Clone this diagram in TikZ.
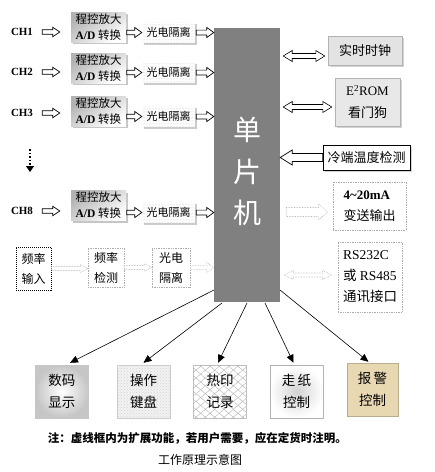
\documentclass[tikz,border=0pt]{standalone}
\usepackage{fontspec}
\setmainfont{Liberation Serif}
\newfontfamily\cjk{Noto Sans CJK SC}
\usetikzlibrary{arrows.meta,calc,shadows,patterns,patterns.meta}
\newcommand{\barrow}[6][]{\draw[#1] let \p1=(#2),\p2=(#3),\n1={sign(\x2-\x1)} in
  (\x1,{\y1+#4}) -- ({\x2-\n1*#6},{\y1+#4}) -- ({\x2-\n1*#6},{\y1+#5}) -- (\x2,\y1)
  -- ({\x2-\n1*#6},{\y1-#5}) -- ({\x2-\n1*#6},{\y1-#4}) -- (\x1,{\y1-#4}) -- cycle;}
\newcommand{\dbarrow}[6][]{\draw[#1] let \p1=(#2),\p2=(#3),\n1={sign(\x2-\x1)} in
  (\x1,\y1) -- ({\x1+\n1*#6},{\y1+#5}) -- ({\x1+\n1*#6},{\y1+#4}) -- ({\x2-\n1*#6},{\y1+#4})
  -- ({\x2-\n1*#6},{\y1+#5}) -- (\x2,\y1) -- ({\x2-\n1*#6},{\y1-#5}) -- ({\x2-\n1*#6},{\y1-#4})
  -- ({\x1+\n1*#6},{\y1-#4}) -- ({\x1+\n1*#6},{\y1-#5}) -- cycle;}
\definecolor{tan}{HTML}{E8D8B2}
\begin{document}
\begin{tikzpicture}[x=1pt,y=-1pt,
  chl/.style={font=\bfseries\fontsize{11}{13}\selectfont, inner sep=0pt},
  ampbox/.style={minimum width=55pt,minimum height=30pt,inner sep=0pt,align=left,
     top color=gray!60,bottom color=white,shading angle=35,
     drop shadow={shadow xshift=2pt,shadow yshift=-2pt,opacity=0.45},
     font=\fontsize{11.5}{16}\selectfont},
  isobox/.style={minimum width=53pt,minimum height=21pt,inner sep=0pt,
     fill=white,postaction={pattern=dots,pattern color=gray!55},
     drop shadow={shadow xshift=1.5pt,shadow yshift=-1.5pt,opacity=0.4},
     font=\cjk\fontsize{11}{13}\selectfont},
  hol/.style={draw=black,fill=white,line width=0.7pt},
  dhol/.style={draw=gray!60,fill=white,densely dotted,line width=0.6pt},
  dbox/.style={draw=gray!65,densely dotted,line width=0.7pt,inner sep=0pt,align=center},
  gbox/.style={draw=gray!60,fill=gray!22,inner sep=0pt,align=center,
     drop shadow={shadow xshift=1.5pt,shadow yshift=-1.5pt,opacity=0.35}},
  bbox/.style={minimum width=53pt,minimum height=53pt,inner sep=0pt,align=center,
     font=\cjk\fontsize{13.5}{22}\selectfont},
  blk/.style={line width=0.6pt,-{Triangle[length=8pt,width=7pt]}},
]
\useasboundingbox (0,0) rectangle (435,472);
% MCU
\node[fill=black!50,minimum width=66pt,minimum height=274pt,inner sep=0pt] (mcu) at (247,165) {};
\node[text=white,font=\cjk\fontsize{28}{30}\selectfont] (u1) at (247,130) {单};
\node[text=white,font=\cjk\fontsize{28}{30}\selectfont] (u2) at (247,172) {片};
\node[text=white,font=\cjk\fontsize{28}{30}\selectfont] (u3) at (247,213) {机};
% channels
\foreach \k/\lab/\yc/\ya/\yi in {1/CH1/32/27/32.5, 2/CH2/72/68/72.5, 3/CH3/113/111/116.5, 8/CH8/211/205.5/212.5}{
  \node[chl] (ch\k) at (22,\yc) {\lab};
  \node[ampbox] (amp\k) at (98.5,\ya) {{\cjk 程控放大}\\\textbf{A/D} {\cjk 转换}};
  \node[isobox] (iso\k) at (168.5,\yi) {光电隔离};
  \barrow[hol]{$(ch\k.east)+(9,0)$}{$(amp\k.west |- ch\k.east)+(-11,0)$}{2.2pt}{4.7pt}{7pt}
  \barrow[hol]{$(amp\k.east |- iso\k.west)+(0.5,0)$}{iso\k.west}{2.2pt}{5pt}{7pt}
  \barrow[hol]{$(iso\k.east)+(1,0)$}{iso\k.east -| mcu.west}{2.4pt}{5pt}{7pt}
}
% dotted down arrow
\coordinate (d1) at (30,149);
\coordinate (d2) at (30,172);
\draw[line width=1.6pt,dotted] (d1) -- ($(d2)+(0,-6)$);
\draw[-{Triangle[length=6pt,width=8pt]},line width=1pt] ($(d2)+(0,-6.5)$) -- (d2);
% frequency row
\node[draw=black,densely dotted,line width=1pt,minimum width=35pt,minimum height=43pt,inner sep=0pt,align=center,font=\cjk\fontsize{12}{20}\selectfont] (fin) at (33.5,268.5) {频率\\输入};
\node[dbox,minimum width=36pt,minimum height=39pt,font=\cjk\fontsize{12}{20}\selectfont] (fdet) at (106,267.5) {频率\\检测};
\node[dbox,minimum width=38pt,minimum height=39pt,font=\cjk\fontsize{12}{20}\selectfont] (fiso) at (171,267.5) {光电\\隔离};
\barrow[dhol]{fin.east}{fdet.west}{2pt}{3.8pt}{7pt}
\barrow[dhol]{fdet.east}{fiso.west}{2pt}{3.8pt}{7pt}
\barrow[dhol]{fiso.east}{fiso.east -| mcu.west}{2.2pt}{5pt}{7pt}
% right side
\node[gbox,minimum width=74pt,minimum height=29pt,font=\cjk\fontsize{13}{15}\selectfont] (rtc) at (365,50.5) {实时时钟};
\node[gbox,fill=gray!18,minimum width=65pt,minimum height=48pt,font=\fontsize{13}{22}\selectfont] (eep) at (367.5,102) {E\textsuperscript{2}ROM\\{\cjk 看门狗}};
\node[draw=black,fill=white,line width=0.8pt,minimum width=87pt,minimum height=25pt,inner sep=0pt,
  drop shadow={shadow xshift=1.5pt,shadow yshift=-1.5pt,opacity=0.35},font=\cjk\fontsize{13}{15}\selectfont] (cold) at (366.5,157.5) {冷端温度检测};
\node[dbox,minimum width=73pt,minimum height=48pt,align=left,font=\fontsize{13}{21}\selectfont] (ma) at (369.5,206) {\textbf{4\textasciitilde20mA}\\{\cjk 变送输出}};
\node[dbox,minimum width=64pt,minimum height=70pt,align=left,font=\fontsize{13.5}{21}\selectfont] (rs) at (370,277) {RS232C\\{\cjk 或} RS485\\{\cjk 通讯接口}};
\dbarrow[hol,line width=0.6pt]{$(mcu.east |- rtc.west)+(3,5.5)$}{$(rtc.west)+(-3,5.5)$}{2.5pt}{5.5pt}{9pt}
\dbarrow[hol,line width=0.6pt]{$(mcu.east |- eep.west)+(3,5)$}{$(eep.west)+(-3,5)$}{2.5pt}{5.5pt}{9pt}
\barrow[hol]{cold.west}{cold.west -| mcu.east}{4pt}{7.5pt}{12pt}
\barrow[dhol]{$(mcu.east |- ma.west)+(6,6)$}{$(ma.west)+(-5,6)$}{4.5pt}{8pt}{9pt}
\dbarrow[dhol]{$(mcu.east |- rs.west)+(4,-2)$}{$(rs.west)+(-6,-2)$}{2pt}{4.5pt}{9pt}
% bottom boxes
\node[bbox,inner color=white,outer color=gray!45,draw=gray!45] (b1) at (62,391.5) {数码\\显示};
\node[bbox,fill=gray!10,postaction={pattern=crosshatch dots,pattern color=gray!35},draw=gray!40] (b2) at (143.5,391.5) {操作\\键盘};
\node[bbox,fill=white,draw=gray!50,
  postaction={pattern={Lines[angle=40,distance=6pt,line width=0.4pt]},pattern color=gray!60},
  postaction={pattern={Lines[angle=-40,distance=6pt,line width=0.4pt]},pattern color=gray!60}] (b3) at (220,391.5) {热印\\记录};
\node[bbox,inner color=gray!35,outer color=white,draw=gray!60] (b4) at (296.5,391.5) {走\,纸\\控制};
\node[bbox,fill=tan,draw=tan!80!black,minimum width=51pt] (b5) at (372.5,389.5) {报\,警\\控制};
\coordinate (s1) at (214,290);
\coordinate (s2) at (222,303);
\coordinate (s3) at (247,303);
\coordinate (s4) at (265,303);
\coordinate (s5) at (280,290);
\draw[blk] (s1) -- ($(b1.north)+(8,-2)$);
\draw[blk] (s2) -- ($(b2.north)+(0,-2)$);
\draw[blk] (s3) -- ($(b3.north)+(-2,-2)$);
\draw[blk] (s4) -- ($(b4.north)+(-3,-2)$);
\draw[blk] (s5) -- ($(b5.north)+(-4,-1)$);
% notes
\node[font=\cjk\bfseries\fontsize{11.5}{13}\selectfont] (note) at (197.5,438) {注：虚线框内为扩展功能，若用户需要，应在定货时注明。};
\node[font=\cjk\fontsize{12}{14}\selectfont] (title) at (200,460) {工作原理示意图};
\end{tikzpicture}
\end{document}
